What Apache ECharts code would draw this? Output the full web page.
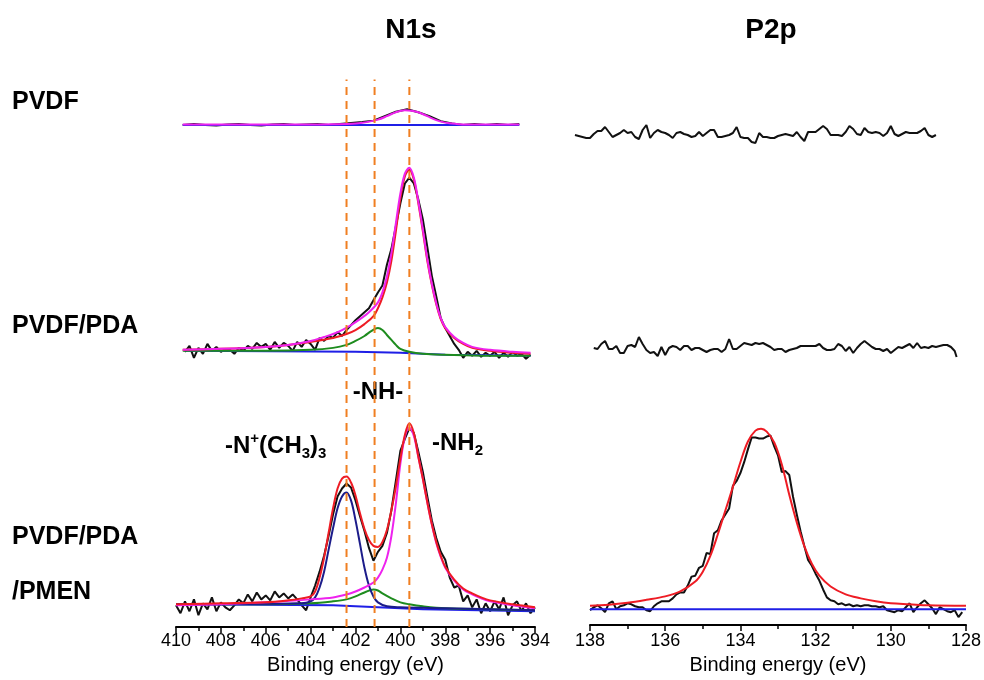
<!DOCTYPE html>
<html>
<head>
<meta charset="utf-8">
<script src="https://cdn.jsdelivr.net/npm/echarts@6/dist/echarts.min.js"></script>
<style>html,body{margin:0;padding:0;background:#fff}#c{width:984px;height:680px}</style>
</head>
<body>
<div id="c"></div>
<script>
// ---------- N1s panel data (binding energy eV, intensity with stacking offset) ----------
const n1sTicks = [410, 408, 406, 404, 402, 400, 398, 396, 394];
const p2pTicks = [138, 136, 134, 132, 130, 128];
const peakLines = [402.4, 401.15, 399.6];

// PVDF (top)
const pvdfN1sRaw = [[409.7,507],[409.2,508],[408.7,507],[408.2,506.5],[407.7,507.5],[407.2,508],[406.7,507],[406.2,506.5],[405.7,507.5],[405.2,508],[404.7,507],[404.2,507.5],[403.7,508],[403.2,507],[402.7,508],[402.2,509],[401.7,510],[401.2,511.5],[400.7,516],[400.2,520.5],[399.7,523],[399.2,520],[398.7,516],[398.2,511],[397.7,508.5],[397.2,507],[396.7,508],[396.2,507],[395.7,508],[395.2,507],[394.7,508]];
const pvdfN1sFit = [[409.7,507.5],[404,507.5],[403,507.8],[402,508.6],[401.5,510],[401,512.5],[400.6,516],[400.2,520],[399.8,522],[399.5,521.5],[399.2,520],[398.8,516],[398.4,512],[398,509.5],[397.5,508.2],[397,507.6],[396,507.5],[394.7,507.5]];
const pvdfN1sBase = [[409.7,507],[394.7,507]];

// PVDF/PDA (middle)
const pdaN1sRaw = [[409.6,278],[409.4,284],[409.2,272],[409,282],[408.8,276],[408.6,286],[408.4,279],[408.2,283],[408,278],[407.8,281],[407.6,280],[407.4,276],[407.2,282],[407,279],[406.8,284],[406.6,281],[406.4,287],[406.2,283],[406,286],[405.8,280],[405.6,288],[405.4,282],[405.2,287],[405,284],[404.8,279],[404.6,288],[404.4,283],[404.2,290],[404,286],[403.8,280],[403.6,292],[403.4,289],[403.2,294],[403,292],[402.8,298],[402.6,294],[402.4,300],[402.2,305],[402,310],[401.8,314],[401.6,318],[401.4,322],[401.2,330],[401,338],[400.8,345],[400.6,366],[400.4,382],[400.2,405],[400,428],[399.8,448],[399.6,454],[399.4,448],[399.2,432],[399,412],[398.8,384],[398.6,355],[398.4,334],[398.2,312],[398,302],[397.8,294],[397.6,286],[397.4,280],[397.2,272],[397,278],[396.8,274],[396.6,279],[396.4,273],[396.2,277],[396,274],[395.8,278],[395.6,272],[395.4,277],[395.2,273],[395,278],[394.8,274],[394.6,276],[394.4,271],[394.2,275]];
const pdaN1sEnv = [[409.7,280],[408,281],[406,283],[405,285],[404,289],[403.4,293],[403,296],[402.6,300],[402.2,305],[401.8,311],[401.4,318],[401,328],[400.8,338],[400.6,354],[400.4,378],[400.2,408],[400,438],[399.8,458],[399.6,464],[399.4,454],[399.2,430],[399,402],[398.8,372],[398.6,347],[398.4,327],[398.2,312],[398,303],[397.6,293],[397.2,287],[396.8,283],[396,280],[395,278],[394.2,277]];
const pdaN1sNH2 = [[409.7,280],[408,281],[406,283],[405,285],[404,288],[403,292],[402.4,296],[402,300],[401.6,306],[401.2,314],[401,322],[400.8,333],[400.6,348],[400.4,370],[400.2,400],[400,433],[399.8,455],[399.6,462],[399.4,452],[399.2,428],[399,400],[398.8,370],[398.6,346],[398.4,326],[398.2,311],[398,302],[397.6,292],[397.2,286],[396.8,282],[396,279],[395,277],[394.2,276]];
const pdaN1sNH = [[409.7,279],[406,279],[404,280],[403,282],[402.4,285],[402,289],[401.6,294],[401.3,299],[401,302],[400.8,300],[400.6,295],[400.4,290],[400.2,285],[400,281],[399.6,278],[399,276],[398,275],[396,274],[394.2,274]];
const pdaN1sBase = [[409.6,279],[402,278],[400,277],[398,275],[394.2,274]];

// PVDF/PDA/PMEN (bottom)
const pmenN1sRaw = [[410,22],[409.8,14],[409.6,26],[409.4,16],[409.2,28],[409,12],[408.8,24],[408.6,18],[408.4,30],[408.2,16],[408,25],[407.8,20],[407.6,17],[407.4,22],[407.2,28],[407,24],[406.8,33],[406.6,26],[406.4,35],[406.2,28],[406,32],[405.8,27],[405.6,36],[405.4,30],[405.2,34],[405,29],[404.8,33],[404.6,28],[404.4,22],[404.2,17],[404,30],[403.8,42],[403.6,56],[403.4,72],[403.2,92],[403,114],[402.8,132],[402.6,140],[402.4,145],[402.2,141],[402,128],[401.8,112],[401.6,97],[401.4,80],[401.2,67],[401,76],[400.8,82],[400.6,95],[400.4,118],[400.2,148],[400,178],[399.8,190],[399.6,201],[399.4,196],[399.2,177],[399,157],[398.8,132],[398.6,108],[398.4,90],[398.2,76],[398,68],[397.8,50],[397.6,40],[397.4,42],[397.2,26],[397,32],[396.8,20],[396.6,28],[396.4,14],[396.2,24],[396,16],[395.8,26],[395.6,18],[395.4,30],[395.2,12],[395,22],[394.8,26],[394.6,16],[394.4,24],[394.2,14],[394,20]];
const pmenN1sEnv = [[410,23],[408,24],[406,25],[405,27],[404.4,29],[404,31],[403.8,36],[403.6,50],[403.4,70],[403.2,95],[403,120],[402.8,140],[402.6,150],[402.4,152],[402.2,146],[402,133],[401.8,115],[401.6,99],[401.4,88],[401.2,82],[401,81],[400.8,86],[400.6,98],[400.4,118],[400.2,142],[400,170],[399.8,194],[399.6,206],[399.4,196],[399.2,172],[399,150],[398.8,126],[398.6,104],[398.4,86],[398.2,72],[398,61],[397.6,48],[397.2,39],[396.8,34],[396.4,30],[396,27],[395,23],[394,20]];
const pmenN1sNH2 = [[410,22],[408,23],[406,25],[404,28],[403,30],[402.4,33],[402,36],[401.6,40],[401.2,45],[401,50],[400.8,58],[400.6,70],[400.4,92],[400.2,125],[400,165],[399.8,192],[399.6,201],[399.4,193],[399.2,172],[399,150],[398.8,126],[398.6,104],[398.4,85],[398.2,71],[398,60],[397.6,47],[397.2,38],[396.8,33],[396.4,29],[396,26],[395,22],[394,19]];
const pmenN1sNMe3 = [[410,23],[404.4,24],[404,26],[403.8,30],[403.6,40],[403.4,56],[403.2,78],[403,100],[402.8,120],[402.6,132],[402.4,136],[402.2,128],[402,108],[401.8,84],[401.6,60],[401.4,42],[401.2,31],[401,25],[400.6,21],[400,20],[398,19],[394,17]];
const pmenN1sNH = [[410,23],[406,23],[404,24],[403,26],[402.4,28],[402,31],[401.6,35],[401.2,38],[401,37],[400.8,34],[400.4,29],[400,25],[399.6,23],[399,21],[398,19],[396,18],[394,17]];
const pmenN1sBase = [[410,23],[403,22],[401,20],[399,18],[394,16]];

// ---------- P2p panel data ----------
const pvdfP2pRaw = [[138.4,498],[138.3,497],[138.2,496],[138.1,495],[138,495],[137.9,499],[137.8,502],[137.7,502],[137.6,506],[137.5,501],[137.4,496],[137.3,498],[137.2,500],[137.1,503],[137,500],[136.9,501],[136.8,496],[136.7,494],[136.6,503],[136.5,508],[136.4,495],[136.3,500],[136.2,503],[136.1,501],[136,500],[135.9,498],[135.8,495],[135.7,500],[135.6,501],[135.5,499],[135.4,498],[135.3,496],[135.2,497],[135.1,501],[135,497],[134.9,500],[134.8,503],[134.7,503],[134.6,496],[134.5,496],[134.4,497],[134.3,498],[134.2,500],[134.1,506],[134,496],[133.9,495],[133.8,495],[133.7,491],[133.6,490],[133.5,500],[133.4,496],[133.3,496],[133.2,495],[133.1,495],[133,497],[132.9,498],[132.8,499],[132.7,498],[132.6,497],[132.5,501],[132.4,496],[132.3,492],[132.2,501],[132.1,501],[132,501],[131.9,504],[131.8,507],[131.7,504],[131.6,498],[131.5,498],[131.4,498],[131.3,497],[131.2,501],[131.1,507],[131,504],[130.9,499],[130.8,498],[130.7,505],[130.6,501],[130.5,500],[130.4,501],[130.3,500],[130.2,497],[130.1,500],[130,507],[129.9,499],[129.8,497],[129.7,499],[129.6,501],[129.5,500],[129.4,500],[129.3,500],[129.2,502],[129.1,505],[129,498],[128.9,496],[128.8,498]];
const pdaP2pRaw = [[137.9,285],[137.8,284],[137.7,289],[137.6,292],[137.5,284],[137.4,284],[137.3,287],[137.2,280],[137.1,280],[137,287],[136.9,288],[136.8,286],[136.7,296],[136.6,289],[136.5,283],[136.4,280],[136.3,281],[136.2,277],[136.1,286],[136,278],[135.9,285],[135.8,287],[135.7,286],[135.6,283],[135.5,287],[135.4,287],[135.3,283],[135.2,285],[135.1,285],[135,283],[134.9,281],[134.8,283],[134.7,284],[134.6,284],[134.5,281],[134.4,284],[134.3,294],[134.2,284],[134.1,284],[134,287],[133.9,290],[133.8,289],[133.7,288],[133.6,290],[133.5,289],[133.4,290],[133.3,288],[133.2,286],[133.1,283],[133,284],[132.9,284],[132.8,281],[132.7,283],[132.6,284],[132.5,285],[132.4,287],[132.3,287],[132.2,287],[132.1,287],[132,287],[131.9,289],[131.8,285],[131.7,283],[131.6,283],[131.5,284],[131.4,289],[131.3,287],[131.2,282],[131.1,286],[131,280],[130.9,285],[130.8,289],[130.7,292],[130.6,289],[130.5,286],[130.4,284],[130.3,284],[130.2,282],[130.1,284],[130,280],[129.9,283],[129.8,286],[129.7,285],[129.6,287],[129.5,289],[129.4,285],[129.3,290],[129.2,285],[129.1,286],[129,285],[128.9,287],[128.8,286],[128.7,287],[128.6,288],[128.5,288],[128.4,286],[128.3,282],[128.25,276]];
const pmenP2pRaw = [[138,15],[137.9,18],[137.8,20],[137.7,17],[137.6,13],[137.5,22],[137.4,24],[137.3,16],[137.2,19],[137.1,20],[137,22],[136.9,21],[136.8,19],[136.7,18],[136.6,18],[136.5,15],[136.4,14],[136.3,19],[136.2,22],[136.1,24],[136,24],[135.9,24],[135.8,27],[135.7,31],[135.6,33],[135.5,33],[135.4,40],[135.3,49],[135.2,50],[135.1,58],[135,60],[134.9,73],[134.8,72],[134.7,93],[134.6,96],[134.5,106],[134.4,112],[134.3,118],[134.2,141],[134.1,146],[134,154],[133.9,165],[133.8,178],[133.7,190],[133.6,190],[133.5,189],[133.4,189],[133.3,191],[133.2,192],[133.1,181],[133,172],[132.9,155],[132.8,156],[132.7,152],[132.6,130],[132.5,112],[132.4,95],[132.3,80],[132.2,66],[132.1,60],[132,52],[131.9,45],[131.8,36],[131.7,28],[131.6,25],[131.5,24],[131.4,21],[131.3,22],[131.2,20],[131.1,21],[131,19],[130.9,20],[130.8,19],[130.7,20],[130.6,20],[130.5,19],[130.4,19],[130.3,18],[130.2,19],[130.1,15],[130,14],[129.9,13],[129.8,15],[129.7,14],[129.6,18],[129.5,22],[129.4,13],[129.3,18],[129.2,22],[129.1,25],[129,21],[128.9,17],[128.8,11],[128.7,18],[128.6,16],[128.5,14],[128.4,13],[128.3,15],[128.2,8],[128.1,13]];
const pmenP2pFit = [[138,19.5],[137.5,20.5],[137,22.5],[136.5,25.5],[136,29],[135.6,34],[135.2,44],[135,54],[134.8,70],[134.6,92],[134.4,116],[134.2,140],[134,165],[133.8,186],[133.6,197],[133.45,199],[133.3,196],[133.1,185],[132.9,163],[132.7,132],[132.5,104],[132.3,80],[132.1,62],[131.9,50],[131.6,39],[131.2,31],[130.8,27],[130.4,24],[130,22],[129.5,21],[129,20],[128,19.5]];
const pmenP2pBase = [[138,16],[128,16]];

// ---------- styling ----------
const FONT = "'Liberation Sans',Arial,sans-serif";
const C = {black:'#111111', blue:'#1f1fe6', navy:'#1c1c8a', green:'#1e8c1e', red:'#ee1c24', magenta:'#ee22ee', orange:'#f07f22'};

function line(data, color, opts) {
  return Object.assign({
    type:'line', data:data, xAxisIndex:0, yAxisIndex:0, symbol:'none', silent:true,
    animation:false, lineStyle:{color:color, width:2}, itemStyle:{color:color}, z:2
  }, opts || {});
}
function fit(data, color, opts) { return line(data, color, Object.assign({smooth:0.35}, opts || {})); }
function onAxis(s, idx){ s.xAxisIndex = idx; s.yAxisIndex = idx; return s; }

const series = [];
// N1s panel
series.push(line(pvdfN1sRaw, C.black, {z:2}));
series.push(line(pvdfN1sBase, C.blue, {z:3}));
series.push(fit(pvdfN1sFit, C.magenta, {z:4}));

series.push(line(pdaN1sRaw, C.black, {z:2}));
series.push(line(pdaN1sBase, C.blue, {z:3}));
series.push(fit(pdaN1sNH, C.green, {z:3}));
series.push(fit(pdaN1sNH2, C.red, {z:4}));
series.push(fit(pdaN1sEnv, C.magenta, {z:5}));

series.push(line(pmenN1sRaw, C.black, {z:2}));
series.push(line(pmenN1sBase, C.blue, {z:3}));
series.push(fit(pmenN1sNH, C.green, {z:3}));
series.push(fit(pmenN1sNMe3, C.navy, {z:4}));
series.push(fit(pmenN1sNH2, C.magenta, {z:5}));
series.push(fit(pmenN1sEnv, C.red, {z:6}));

peakLines.forEach(function(e){
  series.push(line([[e,0],[e,553]], C.orange, {z:8, lineStyle:{color:C.orange, width:2, type:[8,6]}}));
});

// P2p panel (top traces on a wider hidden axis with the same scale)
series.push(onAxis(line(pvdfP2pRaw, C.black), 2));
series.push(onAxis(line(pdaP2pRaw, C.black), 2));
series.push(onAxis(line(pmenP2pRaw, C.black, {z:2}), 1));
series.push(onAxis(line(pmenP2pBase, C.blue, {z:3}), 1));
series.push(onAxis(fit(pmenP2pFit, C.red, {z:4}), 1));

function xAxis(grid, min, max, ticks, labelMargin, nameGap) {
  return {
    type:'value', gridIndex:grid, min:min, max:max, interval:2, inverse:true,
    axisLine:{show:true, lineStyle:{color:'#000', width:2}},
    axisTick:{show:true, inside:false, length:6, lineStyle:{color:'#000', width:1.5}},
    minorTick:{show:true, splitNumber:2, length:4, lineStyle:{color:'#000', width:1.5}},
    splitLine:{show:false},
    axisLabel:{color:'#000', fontSize:18, fontFamily:FONT, margin:labelMargin,
      formatter:function(v){ return ticks.indexOf(v) >= 0 ? String(v) : ''; }},
    name:'Binding energy (eV)', nameLocation:'middle', nameGap:nameGap,
    nameTextStyle:{color:'#000', fontSize:20, fontFamily:FONT}
  };
}

const option = {
  animation:false,
  backgroundColor:'#fff',
  textStyle:{fontFamily:FONT},
  grid:[
    {left:176, right:449, top:33, bottom:47},
    {left:590, right:18, top:33, bottom:47},
    {left:571.2, right:18, top:33, bottom:47}
  ],
  xAxis:[
    xAxis(0, 394, 410, n1sTicks, 5, 24),
    xAxis(1, 128, 138, p2pTicks, 7, 30),
    {type:'value', gridIndex:2, min:128, max:138.5, inverse:true, show:false}
  ],
  yAxis:[
    {type:'value', gridIndex:0, min:0, max:600, show:false},
    {type:'value', gridIndex:1, min:0, max:600, show:false},
    {type:'value', gridIndex:2, min:0, max:600, show:false}
  ],
  graphic:[
    {type:'text', x:411, y:30, style:{text:'N1s', fill:'#000', font:'bold 28px '+FONT, align:'center', verticalAlign:'middle'}},
    {type:'text', x:771, y:30, style:{text:'P2p', fill:'#000', font:'bold 28px '+FONT, align:'center', verticalAlign:'middle'}},
    {type:'text', x:12, y:102, style:{text:'PVDF', fill:'#000', font:'bold 25px '+FONT, align:'left', verticalAlign:'middle'}},
    {type:'text', x:12, y:326, style:{text:'PVDF/PDA', fill:'#000', font:'bold 25px '+FONT, align:'left', verticalAlign:'middle'}},
    {type:'text', x:12, y:537, style:{text:'PVDF/PDA', fill:'#000', font:'bold 25px '+FONT, align:'left', verticalAlign:'middle'}},
    {type:'text', x:12, y:592, style:{text:'/PMEN', fill:'#000', font:'bold 25px '+FONT, align:'left', verticalAlign:'middle'}},
    {type:'text', x:378, y:392, style:{text:'-NH-', fill:'#000', font:'bold 24px '+FONT, align:'center', verticalAlign:'middle'}},
    {type:'text', x:225, y:446, style:{
      text:'{b|-N}{sup|+}{b|(CH}{sub|3}{b|)}{sub|3}', align:'left', verticalAlign:'middle',
      rich:{
        b:{fill:'#000', font:'bold 24px '+FONT, lineHeight:34, verticalAlign:'middle'},
        sup:{fill:'#000', font:'bold 15px '+FONT, lineHeight:34, verticalAlign:'top', padding:[2,0,0,0]},
        sub:{fill:'#000', font:'bold 15px '+FONT, lineHeight:34, verticalAlign:'bottom', padding:[0,0,2,0]}
      }}},
    {type:'text', x:432, y:443, style:{
      text:'{b|-NH}{sub|2}', align:'left', verticalAlign:'middle',
      rich:{
        b:{fill:'#000', font:'bold 24px '+FONT, lineHeight:34, verticalAlign:'middle'},
        sub:{fill:'#000', font:'bold 15px '+FONT, lineHeight:34, verticalAlign:'bottom', padding:[0,0,2,0]}
      }}}
  ],
  series: series
};

const chart = echarts.init(document.getElementById('c'), null, {renderer:'canvas'});
chart.setOption(option);
</script>
</body>
</html>
